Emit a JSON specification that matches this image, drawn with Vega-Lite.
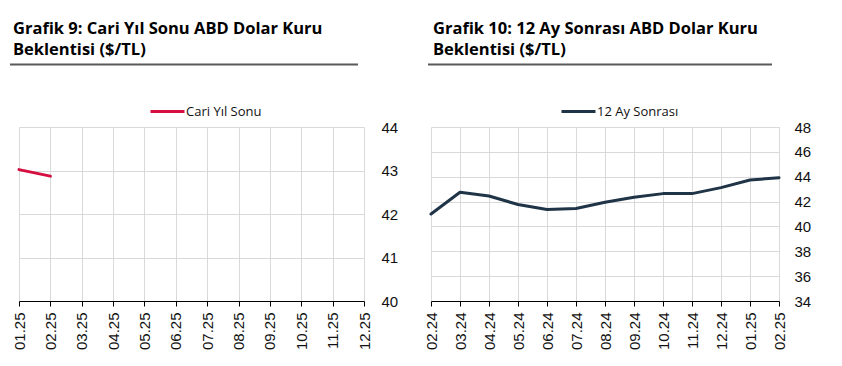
{
  "$schema": "https://vega.github.io/schema/vega-lite/v6.json",
  "padding": {"left": 9, "top": 21, "right": 5, "bottom": 5},
  "background": "white",
  "config": {"font": "Open Sans", "view": {"stroke": null}},
  "resolve": {"scale": {"color": "independent"}, "legend": {"color": "independent"}},
  "spacing": 26,
  "hconcat": [
    {
      "spacing": 54,
      "vconcat": [
        {
          "width": 345, "height": 1,
          "title": {"text": ["Grafik 9: Cari Yıl Sonu ABD Dolar Kuru", "Beklentisi ($/TL)"], "anchor": "start", "frame": "group", "fontSize": 16.5, "fontWeight": "bold", "color": "#000000", "lineHeight": 21, "offset": 5, "dx": -6},
          "data": {"values": [{"bas": -9, "son": 339}]},
          "mark": {"type": "rule", "color": "#595959", "strokeWidth": 2, "clip": false},
          "encoding": {
            "x": {"field": "bas", "type": "quantitative", "scale": {"domain": [0, 345], "nice": false, "zero": false}, "axis": null},
            "x2": {"field": "son"}
          }
        },
        {
          "width": 345, "height": 174,
          "data": {"values": [
            {"ay": "01.25", "seri": "Cari Yıl Sonu", "deger": 43.02},
            {"ay": "02.25", "seri": "Cari Yıl Sonu", "deger": 42.87}
          ]},
          "mark": {"type": "line", "strokeWidth": 3, "strokeCap": "round"},
          "encoding": {
            "x": {"field": "ay", "type": "ordinal",
              "scale": {"type": "point", "padding": 0, "domain": ["01.25","02.25","03.25","04.25","05.25","06.25","07.25","08.25","09.25","10.25","11.25","12.25"]},
              "axis": {"title": null, "labelAngle": -90, "domainColor": "#000000", "tickColor": "#000000", "tickSize": 5, "grid": true, "gridColor": "#d9d9d9", "labelFont": "Liberation Sans", "labelFontSize": 15, "labelColor": "#111111", "labelPadding": 6}},
            "y": {"field": "deger", "type": "quantitative",
              "scale": {"domain": [40, 44], "nice": false, "zero": false},
              "axis": {"orient": "right", "title": null, "domain": false, "ticks": false, "values": [40,41,42,43,44], "gridColor": "#d9d9d9", "labelFont": "Liberation Sans", "labelFontSize": 15, "labelColor": "#111111", "labelPadding": 17}},
            "color": {"field": "seri", "type": "nominal", "scale": {"range": ["#D50F3F"]},
              "legend": {"orient": "none", "legendX": 130, "legendY": 29, "title": null, "symbolType": "stroke", "symbolStrokeWidth": 3, "symbolSize": 1156, "labelFontSize": 13, "labelColor": "#111111", "labelOffset": 0}}
          }
        }
      ]
    },
    {
      "spacing": 54,
      "vconcat": [
        {
          "width": 348, "height": 1,
          "title": {"text": ["Grafik 10: 12 Ay Sonrası ABD Dolar Kuru", "Beklentisi ($/TL)"], "anchor": "start", "frame": "group", "fontSize": 16.5, "fontWeight": "bold", "color": "#000000", "lineHeight": 21, "offset": 5, "dx": 2},
          "data": {"values": [{"bas": -3, "son": 341}]},
          "mark": {"type": "rule", "color": "#595959", "strokeWidth": 2, "clip": false},
          "encoding": {
            "x": {"field": "bas", "type": "quantitative", "scale": {"domain": [0, 348], "nice": false, "zero": false}, "axis": null},
            "x2": {"field": "son"}
          }
        },
        {
          "width": 348, "height": 174,
          "data": {"values": [
            {"ay": "02.24", "seri": "12 Ay Sonrası", "deger": 41.0},
            {"ay": "03.24", "seri": "12 Ay Sonrası", "deger": 42.75},
            {"ay": "04.24", "seri": "12 Ay Sonrası", "deger": 42.45},
            {"ay": "05.24", "seri": "12 Ay Sonrası", "deger": 41.76},
            {"ay": "06.24", "seri": "12 Ay Sonrası", "deger": 41.36},
            {"ay": "07.24", "seri": "12 Ay Sonrası", "deger": 41.44},
            {"ay": "08.24", "seri": "12 Ay Sonrası", "deger": 41.95},
            {"ay": "09.24", "seri": "12 Ay Sonrası", "deger": 42.35},
            {"ay": "10.24", "seri": "12 Ay Sonrası", "deger": 42.64},
            {"ay": "11.24", "seri": "12 Ay Sonrası", "deger": 42.64},
            {"ay": "12.24", "seri": "12 Ay Sonrası", "deger": 43.12},
            {"ay": "01.25", "seri": "12 Ay Sonrası", "deger": 43.73},
            {"ay": "02.25", "seri": "12 Ay Sonrası", "deger": 43.92}
          ]},
          "mark": {"type": "line", "strokeWidth": 3, "strokeCap": "round", "strokeJoin": "round"},
          "encoding": {
            "x": {"field": "ay", "type": "ordinal", "sort": null,
              "scale": {"type": "point", "padding": 0},
              "axis": {"title": null, "labelAngle": -90, "domainColor": "#000000", "tickColor": "#000000", "tickSize": 5, "grid": true, "gridColor": "#d9d9d9", "labelFont": "Liberation Sans", "labelFontSize": 15, "labelColor": "#111111", "labelPadding": 6}},
            "y": {"field": "deger", "type": "quantitative",
              "scale": {"domain": [34, 48], "nice": false, "zero": false},
              "axis": {"orient": "right", "title": null, "domain": false, "ticks": false, "values": [34,36,38,40,42,44,46,48], "gridColor": "#d9d9d9", "labelFont": "Liberation Sans", "labelFontSize": 15, "labelColor": "#111111", "labelPadding": 15}},
            "color": {"field": "seri", "type": "nominal", "scale": {"range": ["#203447"]},
              "legend": {"orient": "none", "legendX": 129, "legendY": 29, "title": null, "symbolType": "stroke", "symbolStrokeWidth": 3, "symbolSize": 1156, "labelFontSize": 13, "labelColor": "#111111", "labelOffset": 0}}
          }
        }
      ]
    }
  ]
}
